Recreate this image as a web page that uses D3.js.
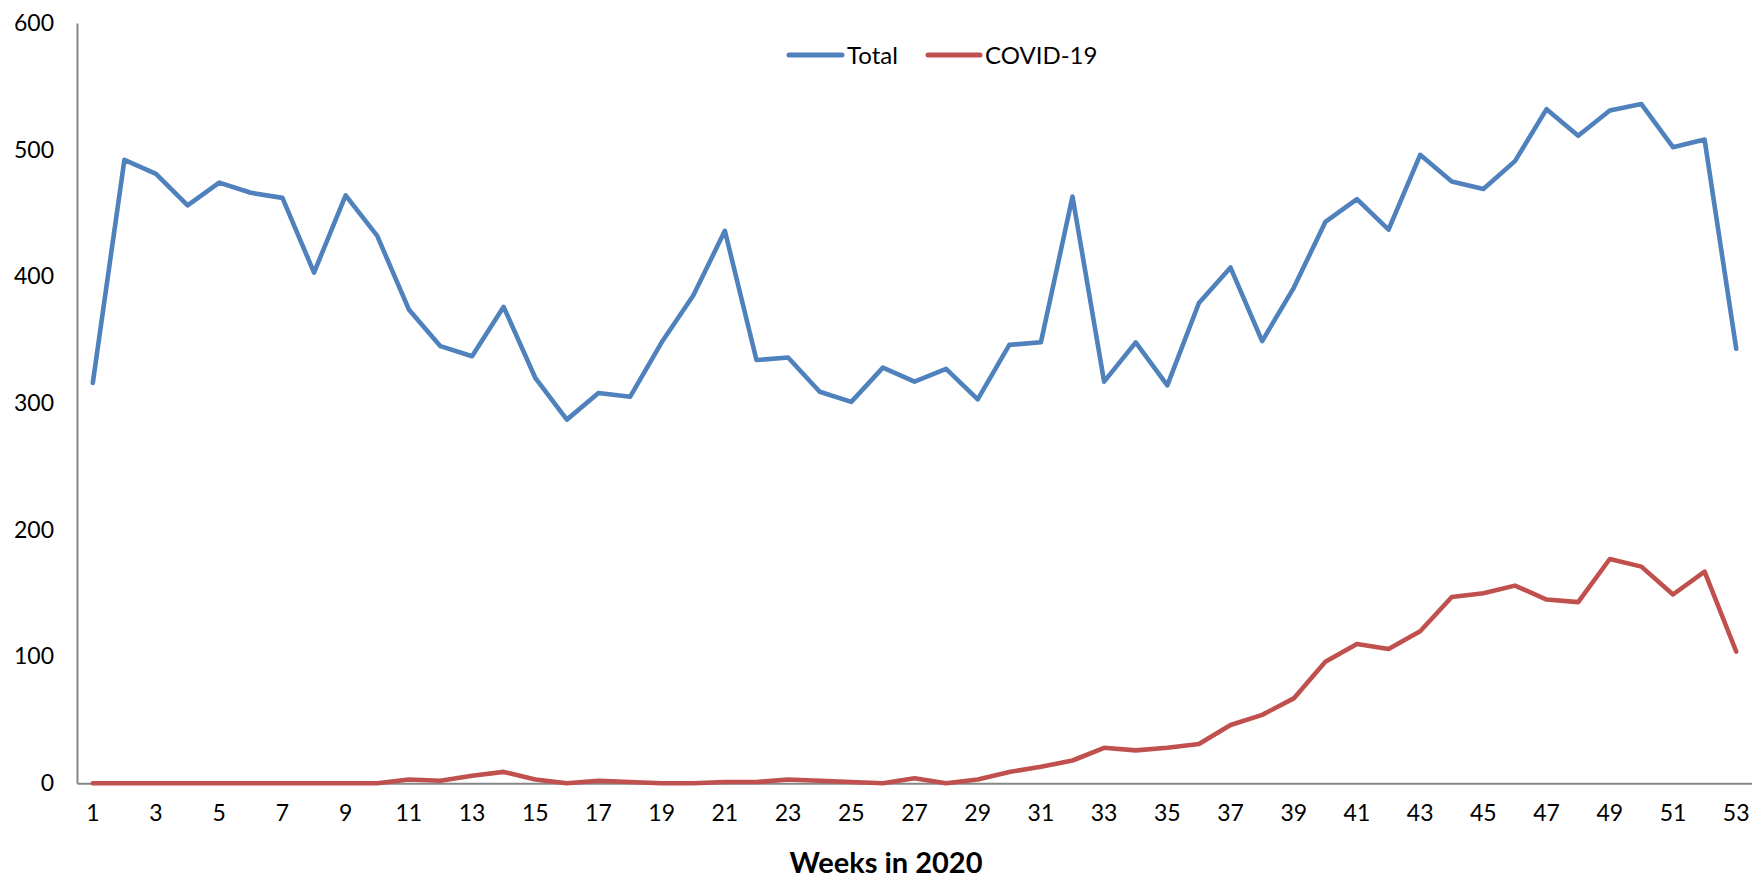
<!DOCTYPE html>
<html>
<head>
<meta charset="utf-8">
<script src="https://cdn.jsdelivr.net/npm/d3@7"></script>
<style>
  html, body { margin: 0; padding: 0; background: #fff; }
  svg { display: block; }
  text { font-family: Lato, "Liberation Sans", sans-serif; fill: #000; }
</style>
</head>
<body>
<svg id="chart" width="1752" height="882"></svg>
<script>
const weeks = d3.range(1, 54);
const totalValues = [316,492,481,456,474,466,462,403,464,432,374,345,337,376,320,287,308,305,348,385,436,334,336,309,301,328,317,327,303,346,348,463,317,348,314,379,407,349,391,443,461,437,496,475,469,491,532,511,531,536,502,508,343];
const covidValues = [0,0,0,0,0,0,0,0,0,0,3,2,6,9,3,0,2,1,0,0,1,1,3,2,1,0,4,0,3,9,13,18,28,26,28,31,46,54,67,96,110,106,120,147,150,156,145,143,177,171,149,167,104];
const yTicks = [0,100,200,300,400,500,600];
const xTickLabels = weeks.filter(w => w % 2 === 1);
const seriesNames = ["Total", "COVID-19"];
const seriesColors = ["#4F81BD", "#C0504D"];
const xTitle = "Weeks in 2020";

(function () {
const svg = d3.select("#chart");
const mLeft = 77, mRight = 1752, mTop = 23, mBottom = 783.3;

const x = d3.scaleBand().domain(weeks).range([mLeft, mRight]).padding(0);
const y = d3.scaleLinear().domain([0, 600]).range([mBottom, mTop]);
const cx = w => x(w) + x.bandwidth() / 2;

// Y axis
const yAxis = svg.append("g").attr("transform", `translate(${mLeft},0)`)
  .call(d3.axisLeft(y).tickValues(yTicks).tickSize(0).tickPadding(23));
yAxis.select(".domain").attr("stroke", "#868686").attr("stroke-width", 2);
yAxis.selectAll("text").attr("font-size", 23).style("font-family", "Lato, 'Liberation Sans', sans-serif");

// X axis
const xAxis = svg.append("g").attr("transform", `translate(0,${mBottom})`)
  .call(d3.axisBottom(x).tickValues(xTickLabels).tickSize(0).tickPadding(21));
xAxis.select(".domain").attr("stroke", "#868686").attr("stroke-width", 2);
xAxis.selectAll("text").attr("font-size", 23).style("font-family", "Lato, 'Liberation Sans', sans-serif");

// Lines
const series = [totalValues, covidValues];
const line = d3.line().x((d, i) => cx(weeks[i])).y(d => y(d));
series.forEach((vals, k) => {
  svg.append("path").datum(vals)
    .attr("d", line)
    .attr("fill", "none")
    .attr("stroke", seriesColors[k])
    .attr("stroke-width", 4.6)
    .attr("stroke-linejoin", "round")
    .attr("stroke-linecap", "round");
});

// Legend
const legendItems = [
  {x1: 789, x2: 842, tx: 847},
  {x1: 928, x2: 980, tx: 985}
];
legendItems.forEach((it, k) => {
  svg.append("line").attr("x1", it.x1).attr("x2", it.x2).attr("y1", 55).attr("y2", 55)
    .attr("stroke", seriesColors[k]).attr("stroke-width", 5).attr("stroke-linecap", "round");
  svg.append("text").attr("x", it.tx).attr("y", 55).attr("dy", "0.36em")
    .attr("font-size", 24).text(seriesNames[k]);
});

// X title
svg.append("text").attr("x", 886).attr("y", 873).attr("text-anchor", "middle")
  .attr("font-size", 29).attr("font-weight", "bold").text(xTitle);
})();
</script>
</body>
</html>
